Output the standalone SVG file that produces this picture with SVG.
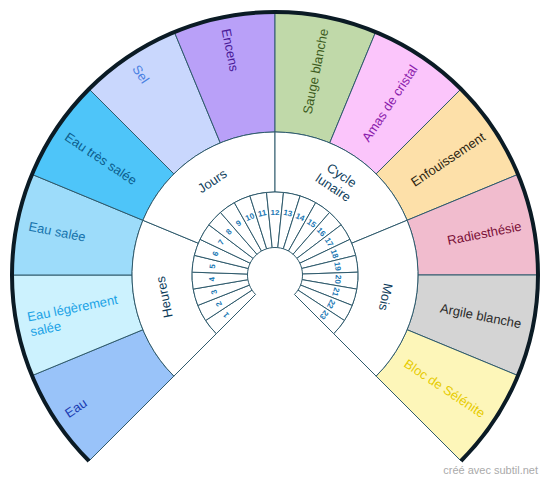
<svg xmlns="http://www.w3.org/2000/svg" width="550" height="482" viewBox="0 0 550 482">
<style>
.c{stroke:#2e5a6c;stroke-width:1;}
.w{fill:#ffffff;}
text{font-family:"Liberation Sans",Arial,sans-serif;}
.o{font-size:13px;dominant-baseline:central;}
.s{text-anchor:start;}
.e{text-anchor:end;}
.m{font-size:13px;fill:#0e3d5b;text-anchor:middle;dominant-baseline:central;}
.n{font-size:8px;font-weight:bold;fill:#1a78b4;text-anchor:middle;dominant-baseline:central;}
.wm{font-size:11px;fill:#aaaaaa;text-anchor:end;}
</style>
<rect width="550" height="482" fill="#ffffff"/>
<g id="outer">
<g id="n-eau"><path class="c" fill="#99c3f9" d="M89.03,460.97 A263,263 0 0 1 32.02,375.64 L142.89,329.72 A143,143 0 0 0 173.88,376.12 Z"/><text class="o s" fill="#1b3cb2" transform="translate(66.3,414.45) rotate(-33.75)">Eau</text></g>
<g id="n-eau-legere"><path class="c" fill="#ccf2fe" d="M32.02,375.64 A263,263 0 0 1 12,275 L132,275 A143,143 0 0 0 142.89,329.72 Z"/><text class="o s" fill="#1ba2e6" transform="translate(28.82,323.97) rotate(-11.25)"><tspan x="0" y="-7.5">Eau légèrement</tspan><tspan x="0" y="7.5">salée</tspan></text></g>
<g id="n-eau-salee"><path class="c" fill="#9ddcfa" d="M12,275 A263,263 0 0 1 32.02,174.36 L142.89,220.28 A143,143 0 0 0 132,275 Z"/><text class="o s" fill="#1774ad" transform="translate(28.82,226.03) rotate(11.25)">Eau salée</text></g>
<g id="n-eau-tres-salee"><path class="c" fill="#4ec5f9" d="M32.02,174.36 A263,263 0 0 1 89.03,89.03 L173.88,173.88 A143,143 0 0 0 142.89,220.28 Z"/><text class="o s" fill="#0b5c8c" transform="translate(66.3,135.55) rotate(33.75)">Eau très salée</text></g>
<g id="n-sel"><path class="c" fill="#c9d7fd" d="M89.03,89.03 A263,263 0 0 1 174.36,32.02 L220.28,142.89 A143,143 0 0 0 173.88,173.88 Z"/><text class="o s" fill="#4a80e2" transform="translate(135.55,66.3) rotate(56.25)">Sel</text></g>
<g id="n-encens"><path class="c" fill="#b9a0f8" d="M174.36,32.02 A263,263 0 0 1 275,12 L275,132 A143,143 0 0 0 220.28,142.89 Z"/><text class="o s" fill="#4a1a98" transform="translate(226.03,28.82) rotate(78.75)">Encens</text></g>
<g id="n-sauge"><path class="c" fill="#c0d9a9" d="M275,12 A263,263 0 0 1 375.64,32.02 L329.72,142.89 A143,143 0 0 0 275,132 Z"/><text class="o e" fill="#3c5b20" transform="translate(323.97,28.82) rotate(-78.75)">Sauge blanche</text></g>
<g id="n-amas"><path class="c" fill="#fbc5fb" d="M375.64,32.02 A263,263 0 0 1 460.97,89.03 L376.12,173.88 A143,143 0 0 0 329.72,142.89 Z"/><text class="o e" fill="#8a1aab" transform="translate(414.45,66.3) rotate(-56.25)">Amas de cristal</text></g>
<g id="n-enfouissement"><path class="c" fill="#fde0a9" d="M460.97,89.03 A263,263 0 0 1 517.98,174.36 L407.11,220.28 A143,143 0 0 0 376.12,173.88 Z"/><text class="o e" fill="#2c2410" transform="translate(483.7,135.55) rotate(-33.75)">Enfouissement</text></g>
<g id="n-radiesthesie"><path class="c" fill="#f1bcce" d="M517.98,174.36 A263,263 0 0 1 538,275 L418,275 A143,143 0 0 0 407.11,220.28 Z"/><text class="o e" fill="#7b1038" transform="translate(521.18,226.03) rotate(-11.25)">Radiesthésie</text></g>
<g id="n-argile"><path class="c" fill="#d4d4d4" d="M538,275 A263,263 0 0 1 517.98,375.64 L407.11,329.72 A143,143 0 0 0 418,275 Z"/><text class="o e" fill="#2b2b2b" transform="translate(521.18,323.97) rotate(11.25)">Argile blanche</text></g>
<g id="n-selenite"><path class="c" fill="#fdf6b9" d="M517.98,375.64 A263,263 0 0 1 460.97,460.97 L376.12,376.12 A143,143 0 0 0 407.11,329.72 Z"/><text class="o e" fill="#e6cb00" transform="translate(483.7,414.45) rotate(33.75)">Bloc de Sélénite</text></g>
</g>
<g id="middle">
<g id="n-heures"><path class="c w" d="M173.88,376.12 A143,143 0 0 1 142.89,220.28 L198.32,243.24 A83,83 0 0 0 216.31,333.69 Z"/><text class="m" transform="translate(164.17,297.05) rotate(-101.25)">Heures</text></g>
<g id="n-jours"><path class="c w" d="M142.89,220.28 A143,143 0 0 1 275,132 L275,192 A83,83 0 0 0 198.32,243.24 Z"/><text class="m" transform="translate(212.22,181.04) rotate(-33.75)">Jours</text></g>
<g id="n-cycle"><path class="c w" d="M275,132 A143,143 0 0 1 407.11,220.28 L351.68,243.24 A83,83 0 0 0 275,192 Z"/><text class="m" transform="translate(337.78,181.04) rotate(33.75)"><tspan x="0" y="-7.5">Cycle</tspan><tspan x="0" y="7.5">lunaire</tspan></text></g>
<g id="n-mois"><path class="c w" d="M407.11,220.28 A143,143 0 0 1 376.12,376.12 L333.69,333.69 A83,83 0 0 0 351.68,243.24 Z"/><text class="m" transform="translate(385.83,297.05) rotate(101.25)">Mois</text></g>
</g>
<g id="inner">
<g id="n-1"><path class="c w" d="M216.31,333.69 A83,83 0 0 1 205.6,320.52 L252.01,290.08 A27.5,27.5 0 0 0 255.55,294.45 Z"/><text class="n" transform="translate(226.13,314.76) rotate(-129.13)">1</text></g>
<g id="n-2"><path class="c w" d="M205.6,320.52 A83,83 0 0 1 197.79,305.45 L249.42,285.09 A27.5,27.5 0 0 0 252.01,290.08 Z"/><text class="n" transform="translate(219.06,303.98) rotate(-117.39)">2</text></g>
<g id="n-3"><path class="c w" d="M197.79,305.45 A83,83 0 0 1 193.21,289.1 L247.9,279.67 A27.5,27.5 0 0 0 249.42,285.09 Z"/><text class="n" transform="translate(214.34,292) rotate(-105.65)">3</text></g>
<g id="n-4"><path class="c w" d="M193.21,289.1 A83,83 0 0 1 192.05,272.17 L247.52,274.06 A27.5,27.5 0 0 0 247.9,279.67 Z"/><text class="n" transform="translate(212.15,279.3) rotate(-93.91)">4</text></g>
<g id="n-5"><path class="c w" d="M192.05,272.17 A83,83 0 0 1 194.36,255.35 L248.28,268.49 A27.5,27.5 0 0 0 247.52,274.06 Z"/><text class="n" transform="translate(212.59,266.42) rotate(-82.17)">5</text></g>
<g id="n-6"><path class="c w" d="M194.36,255.35 A83,83 0 0 1 200.05,239.35 L250.17,263.19 A27.5,27.5 0 0 0 248.28,268.49 Z"/><text class="n" transform="translate(215.64,253.9) rotate(-70.43)">6</text></g>
<g id="n-7"><path class="c w" d="M200.05,239.35 A83,83 0 0 1 208.87,224.85 L253.09,258.38 A27.5,27.5 0 0 0 250.17,263.19 Z"/><text class="n" transform="translate(221.17,242.27) rotate(-58.7)">7</text></g>
<g id="n-8"><path class="c w" d="M208.87,224.85 A83,83 0 0 1 220.45,212.44 L256.93,254.27 A27.5,27.5 0 0 0 253.09,258.38 Z"/><text class="n" transform="translate(228.96,232) rotate(-46.96)">8</text></g>
<g id="n-9"><path class="c w" d="M220.45,212.44 A83,83 0 0 1 234.32,202.65 L261.52,251.03 A27.5,27.5 0 0 0 256.93,254.27 Z"/><text class="n" transform="translate(238.67,223.53) rotate(-35.22)">9</text></g>
<g id="n-10"><path class="c w" d="M234.32,202.65 A83,83 0 0 1 249.89,195.89 L266.68,248.79 A27.5,27.5 0 0 0 261.52,251.03 Z"/><text class="n" transform="translate(249.9,217.22) rotate(-23.48)">10</text></g>
<g id="n-11"><path class="c w" d="M249.89,195.89 A83,83 0 0 1 266.51,192.43 L272.19,247.64 A27.5,27.5 0 0 0 266.68,248.79 Z"/><text class="n" transform="translate(262.18,213.32) rotate(-11.74)">11</text></g>
<g id="n-12"><path class="c w" d="M266.51,192.43 A83,83 0 0 1 283.49,192.43 L277.81,247.64 A27.5,27.5 0 0 0 272.19,247.64 Z"/><text class="n" transform="translate(275,212)">12</text></g>
<g id="n-13"><path class="c w" d="M283.49,192.43 A83,83 0 0 1 300.11,195.89 L283.32,248.79 A27.5,27.5 0 0 0 277.81,247.64 Z"/><text class="n" transform="translate(287.82,213.32) rotate(11.74)">13</text></g>
<g id="n-14"><path class="c w" d="M300.11,195.89 A83,83 0 0 1 315.68,202.65 L288.48,251.03 A27.5,27.5 0 0 0 283.32,248.79 Z"/><text class="n" transform="translate(300.1,217.22) rotate(23.48)">14</text></g>
<g id="n-15"><path class="c w" d="M315.68,202.65 A83,83 0 0 1 329.55,212.44 L293.07,254.27 A27.5,27.5 0 0 0 288.48,251.03 Z"/><text class="n" transform="translate(311.33,223.53) rotate(35.22)">15</text></g>
<g id="n-16"><path class="c w" d="M329.55,212.44 A83,83 0 0 1 341.13,224.85 L296.91,258.38 A27.5,27.5 0 0 0 293.07,254.27 Z"/><text class="n" transform="translate(321.04,232) rotate(46.96)">16</text></g>
<g id="n-17"><path class="c w" d="M341.13,224.85 A83,83 0 0 1 349.95,239.35 L299.83,263.19 A27.5,27.5 0 0 0 296.91,258.38 Z"/><text class="n" transform="translate(328.83,242.27) rotate(58.7)">17</text></g>
<g id="n-18"><path class="c w" d="M349.95,239.35 A83,83 0 0 1 355.64,255.35 L301.72,268.49 A27.5,27.5 0 0 0 299.83,263.19 Z"/><text class="n" transform="translate(334.36,253.9) rotate(70.43)">18</text></g>
<g id="n-19"><path class="c w" d="M355.64,255.35 A83,83 0 0 1 357.95,272.17 L302.48,274.06 A27.5,27.5 0 0 0 301.72,268.49 Z"/><text class="n" transform="translate(337.41,266.42) rotate(82.17)">19</text></g>
<g id="n-20"><path class="c w" d="M357.95,272.17 A83,83 0 0 1 356.79,289.1 L302.1,279.67 A27.5,27.5 0 0 0 302.48,274.06 Z"/><text class="n" transform="translate(337.85,279.3) rotate(93.91)">20</text></g>
<g id="n-21"><path class="c w" d="M356.79,289.1 A83,83 0 0 1 352.21,305.45 L300.58,285.09 A27.5,27.5 0 0 0 302.1,279.67 Z"/><text class="n" transform="translate(335.66,292) rotate(105.65)">21</text></g>
<g id="n-22"><path class="c w" d="M352.21,305.45 A83,83 0 0 1 344.4,320.52 L297.99,290.08 A27.5,27.5 0 0 0 300.58,285.09 Z"/><text class="n" transform="translate(330.94,303.98) rotate(117.39)">22</text></g>
<g id="n-23"><path class="c w" d="M344.4,320.52 A83,83 0 0 1 333.69,333.69 L294.45,294.45 A27.5,27.5 0 0 0 297.99,290.08 Z"/><text class="n" transform="translate(323.87,314.76) rotate(129.13)">23</text></g>
</g>
<g id="connectors">
<path d="M89.03,460.97 A263,263 0 1 1 460.97,460.97" fill="none" stroke="#0b1b25" stroke-width="4"/>
</g>
<text class="wm" x="538" y="474">créé avec subtil.net</text>
</svg>
